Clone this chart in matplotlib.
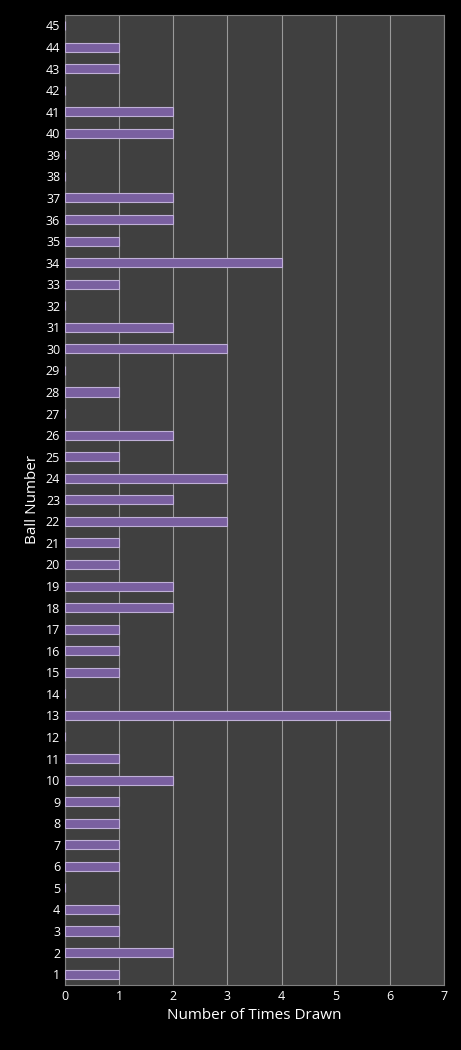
import matplotlib.pyplot as plt

# ---------- data
balls = list(range(1, 46))
times_drawn = [1, 2, 1, 1, 0, 1, 1, 1, 1, 2,
               1, 0, 6, 0, 1, 1, 1, 2, 2, 1,
               1, 3, 2, 3, 1, 2, 0, 1, 0, 3,
               2, 0, 1, 4, 1, 2, 2, 0, 0, 2,
               2, 0, 1, 1, 0]

plt.rcParams['font.family'] = ['Open Sans', 'DejaVu Sans']

fig = plt.figure(figsize=(4.61, 10.5), dpi=100, facecolor='black')
ax = fig.add_axes([0.141, 0.062, 0.822, 0.924])
ax.set_facecolor('#404040')

ax.barh(balls, times_drawn, height=0.42, color='#7a60a0',
        edgecolor='#c0b0d8', linewidth=0.8, zorder=3)

ax.set_xlim(0, 7)
ax.set_ylim(0.5, 45.5)
ax.set_xticks(range(0, 8))
ax.set_yticks(balls)
ax.grid(axis='x', color='#9a9a9a', linewidth=0.8, zorder=0)
ax.tick_params(colors='white', labelsize=9, length=0)
for s in ax.spines.values():
    s.set_color('#808080')

ax.set_xlabel('Number of Times Drawn', color='white', fontsize=11)
ax.set_ylabel('Ball Number', color='white', fontsize=11, labelpad=4)

plt.savefig('out.png', dpi=100, facecolor='black')
